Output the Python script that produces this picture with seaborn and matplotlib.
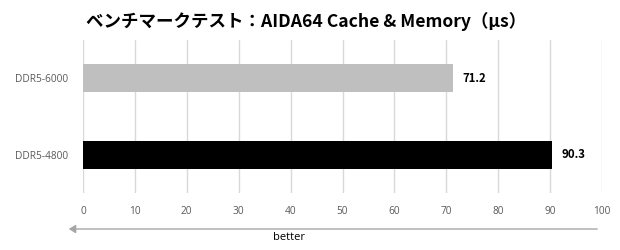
import matplotlib
matplotlib.use("Agg")
import matplotlib.pyplot as plt
import seaborn as sns
import pandas as pd

categories = ["DDR5-6000", "DDR5-4800"]
values = [71.2, 90.3]
colors = ["#BFBFBF", "#000000"]
xticks = [0, 10, 20, 30, 40, 50, 60, 70, 80, 90, 100]
title = "ベンチマークテスト：AIDA64 Cache & Memory（μs）"
xlabel = "better"

sns.set_theme(style="white")
plt.rcParams['font.family'] = ['Noto Sans CJK JP', 'DejaVu Sans']

df = pd.DataFrame({"cat": categories, "val": values})

fig = plt.figure(figsize=(6.2, 2.5), dpi=100)
ax = fig.add_axes([83/620, 57/250, 519/620, 153/250])
sns.barplot(data=df, x="val", y="cat", hue="cat", palette=colors, orient="h",
            width=0.36, ax=ax, legend=False, saturation=1, linewidth=0)
ax.set_xlim(0, 100)
ax.set_ylim(1.5, -0.5)
ax.set_xticks(xticks)
ax.grid(axis="x", color="#D9D9D9", linewidth=1)
ax.set_axisbelow(True)
for s in ax.spines.values():
    s.set_visible(False)
ax.tick_params(axis="both", length=0, labelsize=7.3, labelcolor="#595959")
ax.tick_params(axis="x", pad=9)
ax.tick_params(axis="y", pad=11)
for lbl in ax.get_xticklabels() + ax.get_yticklabels():
    lbl.set_fontfamily(['Open Sans', 'DejaVu Sans'])
ax.set_xlabel("")
ax.set_ylabel("")
for i, v in enumerate(values):
    ax.annotate(f"{v}", (v, i), xytext=(7, 0), textcoords="offset points",
                va="center", ha="left", fontsize=8.2, fontweight="bold", color="#000000",
                fontfamily=['Noto Sans CJK JP', 'DejaVu Sans'])

fig.text(306/620, 1 - 21/250, title, ha="center", va="center", fontsize=12.6, fontweight="bold",
         color="#000000")
fig.add_artist(matplotlib.patches.FancyArrowPatch((600/620, 1 - 229/250), (66/620, 1 - 229/250),
               transform=fig.transFigure, arrowstyle="-|>,head_length=4,head_width=2.5",
               color="#A6A6A6", linewidth=1, mutation_scale=1))
fig.text(289/620, 1 - 238/250, xlabel, ha="center", va="center", fontsize=8, color="#000000",
         fontfamily=['Open Sans', 'DejaVu Sans'])

fig.savefig("out.png", dpi=100)
